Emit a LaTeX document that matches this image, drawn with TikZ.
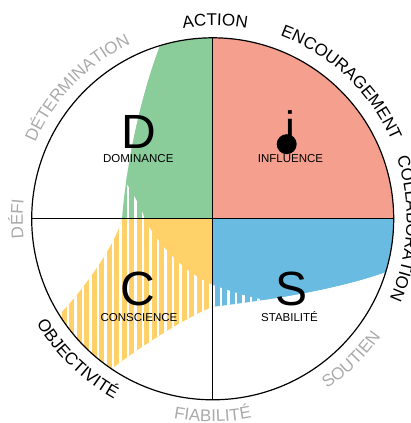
\documentclass[tikz,border=0pt]{standalone}
\usepackage{fontspec}
\setmainfont{Liberation Sans}
\usetikzlibrary{decorations.text}
\definecolor{discgreen}{RGB}{139,204,155}
\definecolor{discred}{RGB}{245,160,143}
\definecolor{discyellow}{RGB}{255,209,104}
\definecolor{discblue}{RGB}{106,187,226}
\definecolor{labelgrey}{RGB}{170,170,170}
\newcommand{\fillquadrants}{%
    \fill[discgreen] (-182,0) rectangle (0,182);
    \fill[discred] (0,0) rectangle (182,182);
    \fill[discyellow] (-182,-182) rectangle (0,0);
    \fill[discblue] (0,-182) rectangle (182,0);}

\begin{document}
\begin{tikzpicture}[
        x=1pt, y=1pt,
        bigletter/.style={anchor=base, font=\fontsize{48}{48}\selectfont},
        word/.style={anchor=base, font=\fontsize{11.5}{12}\selectfont},
        axis/.style={line width=0.9pt},
        ring/.style={line width=1.2pt},
        stripe/.style={white, line width=2.5pt},
        ringlabel/.style 2 args={decorate, decoration={text along path, text align=center,
            text={|\fontsize{17}{17}\selectfont\color{#1}|#2}}}
    ]
        \useasboundingbox (-212.7,-204.2) rectangle (197.3,218.8);

        % Coloured blob, striped fringe, solid core
        \begin{scope}
            \clip (106.9:181) .. controls (-70,128) and (-86,60) .. (-90.7,0)
                .. controls (-97,-25) and (-128,-70) .. (212:181)
                arc[start angle=212, end angle=236, radius=181]
                .. controls (-75,-130) and (-30,-100) .. (0,-88)
                .. controls (50,-82) and (120,-72) .. (-17.1:181)
                arc[start angle=-17.1, end angle=106.9, radius=181] -- cycle;
            \fillquadrants
            \foreach \k in {0,...,21}
                \draw[stripe] ({-2.4-7.5*\k},-190) -- ({-2.4-7.5*\k},60);
            \foreach \k in {0,...,10}
                \draw[stripe] ({0.6+7.5*\k},-190) -- ({0.6+7.5*\k},0);
            \begin{scope}
                \clip (-120,60) -- (-92,45) .. controls (-80,25) and (-71,12) .. (-68,0)
                    .. controls (-58,-20) and (-32,-52) .. (0,-66)
                    .. controls (20,-73) and (40,-80) .. (60,-82)
                    -- (80,-120) -- (220,-120) -- (220,220) -- (-120,220) -- cycle;
                \fillquadrants
            \end{scope}
        \end{scope}

        % Circle and axes
        \coordinate (west) at (180:181);
        \coordinate (east) at (0:181);
        \coordinate (north) at (90:181);
        \coordinate (south) at (270:181);
        \draw[axis] (west) -- (east);
        \draw[axis] (south) -- (north);
        \draw[ring] (0,0) circle[radius=181];

        % Quadrant letters
        \node[circle, fill=black, minimum size=20pt, inner sep=0pt] (idot) at (74,74.6) {};
        \node[bigletter] (letterD) at (-74.2,70.5) {D};
        \node[bigletter, font=\fontsize{44}{44}\selectfont] (letterI) at (78,75.8) {i};
        \node[bigletter] (letterC) at (-74.4,-86.5) {C};
        \node[bigletter] (letterS) at (78.8,-86.5) {S};
        \node[word] (dominance) at (-74.4,56.1) {DOMINANCE};
        \node[word] (influence) at (77.8,56.1) {INFLUENCE};
        \node[word] (conscience) at (-73.7,-102.9) {CONSCIENCE};
        \node[word] (stabilite) at (76.8,-102.9) {STABILITÉ};

        % Ring labels, upper half (clockwise)
        \path[ringlabel={labelgrey}{DÉFI}] (220:190) arc[start angle=220, end angle=140, radius=190];
        \path[ringlabel={labelgrey}{DÉTERMINATION}] (181:193) arc[start angle=181, end angle=91, radius=193];
        \path[ringlabel={black}{ACTION}] (129.3:193) arc[start angle=129.3, end angle=49.3, radius=193];
        \path[ringlabel={black}{ENCOURAGEMENT}] (91.6:195) arc[start angle=91.6, end angle=1.6, radius=195];
        \path[ringlabel={black}{COLLABORATION}] (42.1:194) arc[start angle=42.1, end angle=-47.9, radius=194];

        % Ring labels, lower half (counterclockwise)
        \path[ringlabel={black}{OBJECTIVITÉ}] (181:205) arc[start angle=181, end angle=271, radius=205];
        \path[ringlabel={labelgrey}{FIABILITÉ}] (225:203) arc[start angle=225, end angle=315, radius=203];
        \path[ringlabel={labelgrey}{SOUTIEN}] (-90.5:205) arc[start angle=-90.5, end angle=-0.5, radius=205];
    \end{tikzpicture}
\end{document}
